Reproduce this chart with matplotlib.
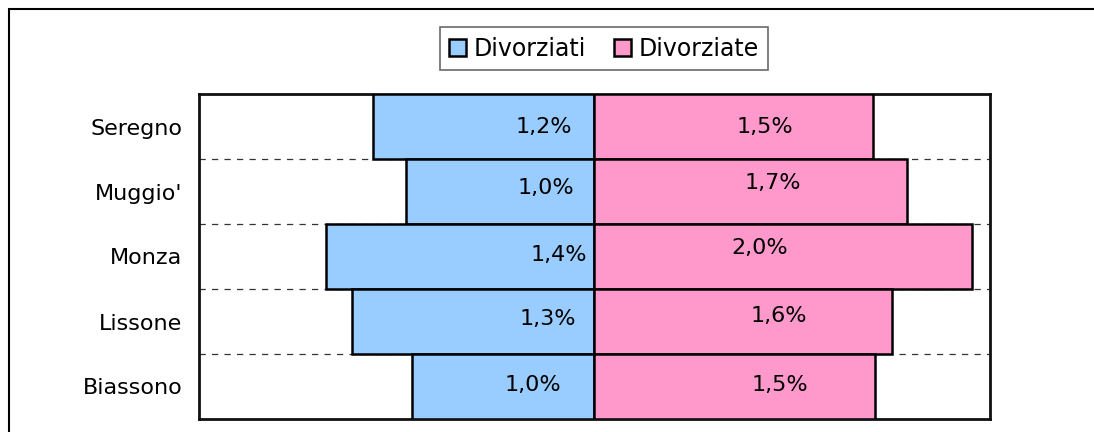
import matplotlib.pyplot as plt
from matplotlib.patches import Rectangle

# dati
comuni = ["Seregno", "Muggio'", "Monza", "Lissone", "Biassono"]
divorziati = [1.19, 1.01, 1.44, 1.30, 0.98]
divorziate = [1.50, 1.68, 2.03, 1.60, 1.51]

# posizioni delle etichette (spostate a mano come nell'originale)
lab_x_sx = [-0.27, -0.26, -0.19, -0.25, -0.33]
lab_dy_sx = [0.0, -0.06, -0.02, -0.04, -0.02]
lab_x_dx = [0.92, 0.96, 0.89, 0.99, 1.00]
lab_dy_dx = [0.0, -0.13, -0.13, -0.09, -0.02]

col_m = "#99CCFF"
col_f = "#FF99CC"

fig = plt.figure(figsize=(10.94, 4.32), dpi=100)
ax = fig.add_axes([199 / 1094, 1 - 419 / 432, 791 / 1094, 325 / 432])

y = list(range(len(comuni)))
ax.barh(y, [-v for v in divorziati], height=1.0, color=col_m,
        edgecolor="black", linewidth=1.8, label="Divorziati", zorder=3)
ax.barh(y, divorziate, height=1.0, color=col_f,
        edgecolor="black", linewidth=1.8, label="Divorziate", zorder=3)

# linee tratteggiate tra le categorie
for b in range(len(comuni) - 1):
    ax.axhline(b + 0.5, color="#333333", linestyle=(0, (5, 5)), linewidth=0.9, zorder=1)

for i in y:
    ax.text(lab_x_sx[i], i + lab_dy_sx[i], f"{divorziati[i]:.1f}%".replace(".", ","),
            ha="center", va="center", fontsize=16, zorder=4)
    ax.text(lab_x_dx[i], i + lab_dy_dx[i], f"{divorziate[i]:.1f}%".replace(".", ","),
            ha="center", va="center", fontsize=16, zorder=4)

ax.set_xlim(-2.125, 2.128)
ax.set_ylim(len(comuni) - 0.5, -0.5)
ax.set_yticks(y)
ax.set_yticklabels(comuni, fontsize=16)
ax.tick_params(axis="y", length=0, pad=12)
ax.set_xticks([])
for s in ax.spines.values():
    s.set_linewidth(2)
    s.set_color("#111111")

leg = fig.legend(loc="center", bbox_to_anchor=(604 / 1094, 1 - 48.5 / 432), ncol=2,
                 fontsize=17, frameon=True, fancybox=False, edgecolor="#444444",
                 handlelength=0.72, handleheight=0.72, handletextpad=0.3,
                 columnspacing=1.2, borderpad=0.4)
leg.get_frame().set_linewidth(1.2)

# cornice esterna
fig.patches.append(Rectangle((8.5 / 1094, -0.1), 1.2, 1 - 9.5 / 432 + 0.1,
                             transform=fig.transFigure, fill=False,
                             edgecolor="black", linewidth=1.5))

fig.savefig("out.png", dpi=100)
